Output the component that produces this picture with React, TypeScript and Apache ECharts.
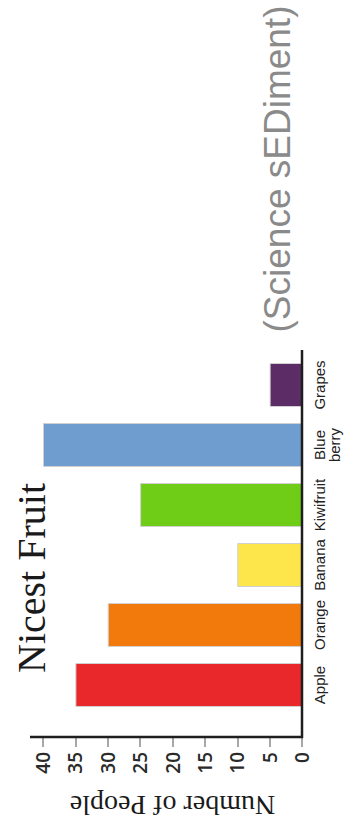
import React, { useEffect, useRef } from "react";
import * as echarts from "echarts";

// Favourite fruit survey
const categories = ["Apple", "Orange", "Banana", "Kiwifruit", "Blue\nberry", "Grapes"];
const people = [35, 30, 10, 25, 40, 5];
const barColors = ["#e8282b", "#f27a0c", "#fde54c", "#6fcd18", "#6f9dd0", "#5b2c66"];
const valueTicks = { min: 0, max: 40, interval: 5 };

const W = 347;
const H = 830;
// plot area (value axis runs right-to-left, categories bottom-to-top)
const GRID = { left: 43, right: 45, top: 355, bottom: 115 };
const AXIS_Y = 737; // value axis line sits below the category band
const AXIS_TOP = 350;
const AXIS_LEFT = 30;

export default function App() {
  const ref = useRef<HTMLDivElement>(null);

  useEffect(() => {
    if (!ref.current) return;
    const chart = echarts.init(ref.current, null, { renderer: "svg" });
    const zeroX = W - GRID.right;
    const bandBottom = H - GRID.bottom;

    chart.setOption({
      animation: false,
      backgroundColor: "#ffffff",
      grid: { ...GRID, containLabel: false },
      xAxis: {
        type: "value",
        inverse: true,
        min: valueTicks.min,
        max: valueTicks.max,
        interval: valueTicks.interval,
        offset: AXIS_Y - bandBottom,
        axisLine: { show: false },
        axisTick: { show: true, length: 10, lineStyle: { color: "#8a8a8a", width: 1.5 } },
        splitLine: { show: false },
        axisLabel: {
          rotate: 90,
          margin: 15,
          fontSize: 19,
          fontFamily: "Open Sans",
          fontWeight: 600,
          color: "#2a2a2a",
        },
        name: "Number of People",
        nameLocation: "middle",
        nameRotate: 180,
        nameGap: 54,
        nameTextStyle: { fontSize: 28, fontFamily: "Liberation Serif", color: "#1a1a1a" },
      },
      yAxis: {
        type: "category",
        data: categories,
        position: "right",
        axisLine: { show: false },
        axisTick: { show: false },
        splitLine: { show: false },
        axisLabel: {
          rotate: 90,
          margin: 10,
          fontSize: 15,
          lineHeight: 15,
          fontFamily: "Liberation Sans",
          color: "#222222",
          interval: 0,
        },
      },
      series: [
        {
          type: "bar",
          barWidth: 44,
          data: people.map((v, i) => ({
            value: v,
            itemStyle: { color: barColors[i], borderColor: "#d0d0d0", borderWidth: 1 },
          })),
        },
      ],
      graphic: [
        {
          type: "polyline",
          shape: {
            points: [
              [AXIS_LEFT, AXIS_Y],
              [zeroX, AXIS_Y],
              [zeroX, AXIS_TOP],
            ],
          },
          style: { stroke: "#1e1e1e", lineWidth: 2.5, fill: null },
          z: 10,
        },
        {
          type: "text",
          x: 31,
          y: 578,
          rotation: Math.PI / 2,
          style: {
            text: "Nicest Fruit",
            font: "40px 'Liberation Serif'",
            fill: "#1a1a1a",
            align: "center",
            verticalAlign: "middle",
          },
        },
        {
          type: "text",
          x: 277,
          y: 169,
          rotation: Math.PI / 2,
          style: {
            text: "(Science sEDiment)",
            font: "37px 'Liberation Sans'",
            fill: "#8a8a8a",
            align: "center",
            verticalAlign: "middle",
          },
        },
      ],
    });

    return () => chart.dispose();
  }, []);

  return (
    <div
      ref={ref}
      style={{ position: "absolute", left: 0, top: 0, width: W, height: H }}
    />
  );
}
